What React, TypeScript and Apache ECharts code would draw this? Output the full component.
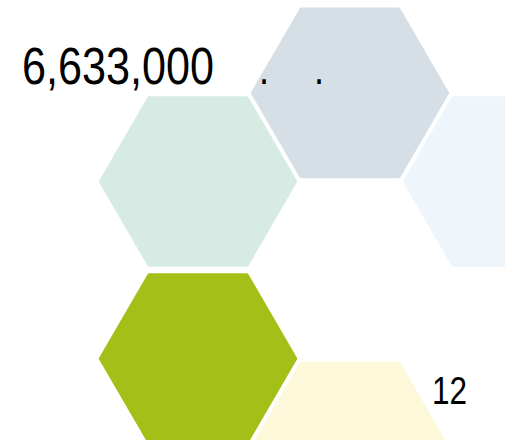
import React, { useEffect, useRef } from "react";
import * as echarts from "echarts";

// Hexagon tiles: grid column, half-row index and fill colour
const hexCols = [1, 0, 2, 0, 1];
const hexRows = [0, 1, 1, 3, 4];
const hexColors = ["#d6dfe6", "#d6ebe3", "#eef5fb", "#a4bf17", "#fdf8d9"];

// Texts
const mainValue = "6,633,000";
const dotLabels = [".", "."];
const countValue = "12";

const HEX_PATH = "path://M25,0L75,0L100,43.3L75,86.6L25,86.6L0,43.3Z";
const FONT = '"Liberation Sans", Arial, sans-serif';
const NARROW = 0.82;

export default function App() {
  const ref = useRef<HTMLDivElement>(null);

  useEffect(() => {
    if (!ref.current) return;
    const chart = echarts.init(ref.current, undefined, { renderer: "svg" });
    const data = hexCols.map((c, i) => ({
      value: [c, hexRows[i]],
      itemStyle: { color: hexColors[i], borderColor: hexColors[i] },
    }));
    const txt = (text: string, x: number, y: number, size: number, sx: number) => ({
      type: "text",
      x,
      y,
      z: 100,
      scaleX: sx,
      style: {
        text,
        font: `${size}px ${FONT}`,
        fill: "#000000",
        verticalAlign: "top",
      },
    });
    chart.setOption({
      animation: false,
      backgroundColor: "#ffffff",
      grid: { left: 198, right: 3, top: 0, bottom: 0 },
      xAxis: { type: "value", min: 0, max: 2, show: false },
      yAxis: { type: "value", min: -1.05, max: 3.92, inverse: true, show: false },
      series: [
        {
          type: "scatter",
          symbol: HEX_PATH,
          symbolSize: [194, 167],
          clip: false,
          silent: true,
          itemStyle: { borderWidth: 4, borderJoin: "round", opacity: 1 },
          data,
        },
      ],
      graphic: [
        txt(mainValue, 22, 40, 52, 0.83),
        txt(dotLabels[0], 259, 47, 44, NARROW),
        txt(dotLabels[1], 314, 47, 44, NARROW),
        txt(countValue, 432, 371, 38, 0.83),
      ],
    });
    return () => chart.dispose();
  }, []);

  return (
    <div style={{ position: "fixed", left: 0, top: 0, width: 514, height: 440, background: "#fff" }}>
      <div ref={ref} style={{ width: 505, height: 440 }} />
    </div>
  );
}
